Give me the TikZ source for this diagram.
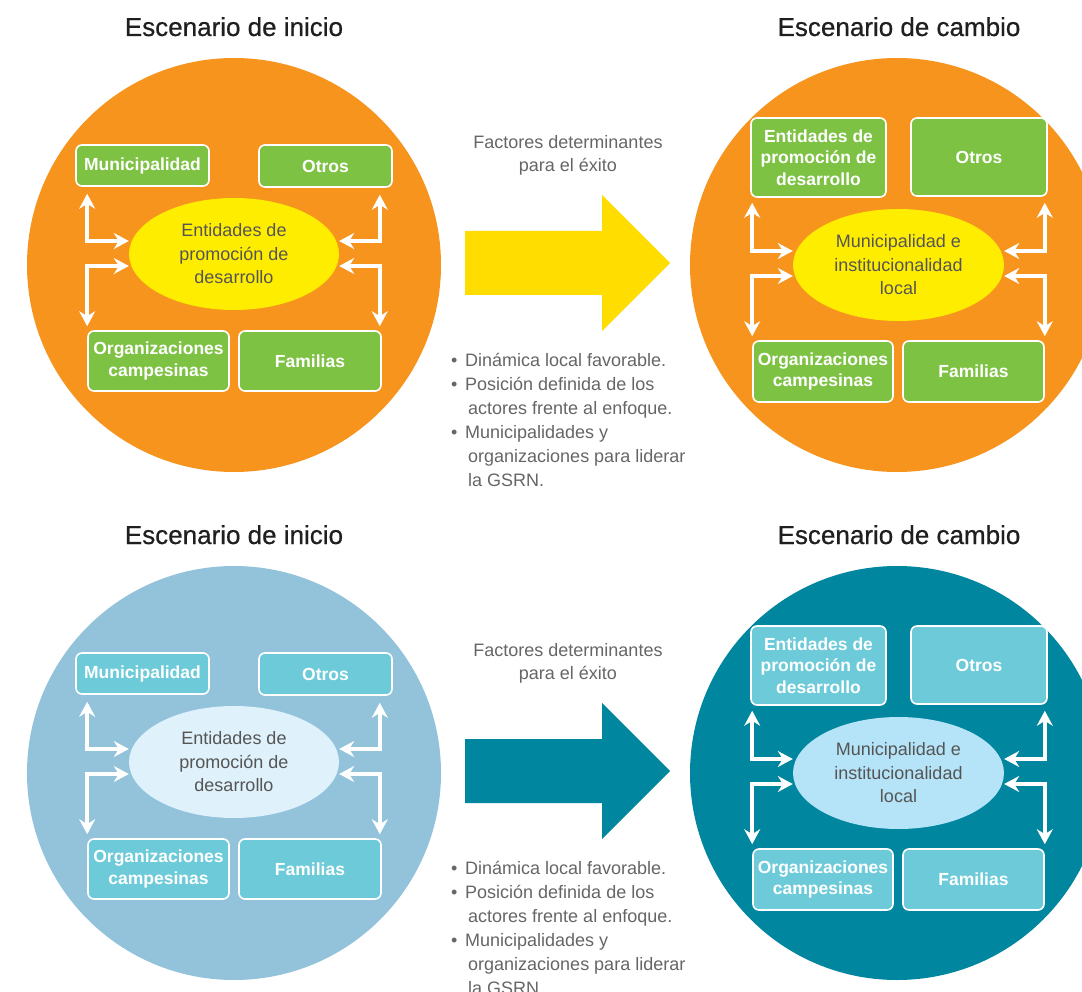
\documentclass[tikz,border=0pt]{standalone}
\usepackage{fontspec}
\setmainfont{Liberation Sans}
\usetikzlibrary{arrows.meta,shapes.geometric}
\definecolor{orng}{HTML}{F7941E}
\definecolor{grn}{HTML}{7DC243}
\definecolor{ylw}{HTML}{FFED00}
\definecolor{arry}{HTML}{FFDD00}
\definecolor{lblue}{HTML}{93C3DB}
\definecolor{cyanbx}{HTML}{6DCBD9}
\definecolor{palebl}{HTML}{DFF1FA}
\definecolor{tealc}{HTML}{00869E}
\definecolor{skybl}{HTML}{B5E3F7}
\definecolor{txtdark}{HTML}{555555}
\definecolor{txtgray}{HTML}{666666}
\tikzset{
 boxnode/.style={draw=white, line width=1.6pt, rounded corners=6pt, text=white,
   font=\bfseries\fontsize{17.5}{21.5}\selectfont, align=center, inner sep=0pt},
 ellnode/.style={ellipse, inner sep=0pt, minimum width=210pt, minimum height=112pt,
   text=txtdark, font=\fontsize{18}{23.5}\selectfont, align=center},
 bi/.style={draw=white, line width=3.6pt,
   arrows={Stealth[length=15pt,width=16pt,inset=5pt]-Stealth[length=15pt,width=16pt,inset=5pt]}},
 titlenode/.style={font=\fontsize{26}{30}\selectfont\addfontfeature{FakeBold=0.6}, text=black!88},
 notenode/.style={font=\fontsize{18}{23}\selectfont, text=txtgray, align=center},
 bulletnode/.style={font=\fontsize{18}{24}\selectfont, text=txtgray, align=left, inner sep=0pt},
}
\begin{document}
\begin{tikzpicture}[x=1pt,y=-1pt]
\useasboundingbox (0,0) rectangle (1082,992);
\clip (0,0) rectangle (1082,992);
\fill[white] (0,0) rectangle (1082,992);
\foreach \rw/\yo/\colL/\colR/\colB/\colEL/\colER/\colA in {t/0/orng/orng/grn/ylw/ylw/arry, b/508/lblue/tealc/cyanbx/palebl/skybl/tealc} {
\begin{scope}[shift={(0,\yo)}]
 % titles
 \node[titlenode, anchor=base] (tL\rw) at (234,36) {Escenario de inicio};
 \node[titlenode, anchor=base] (tR\rw) at (899,36) {Escenario de cambio};
 % circles
 \node[circle, fill=\colL, minimum size=414pt, inner sep=0pt] (cL\rw) at (234,265) {};
 \node[circle, fill=\colR, minimum size=414pt, inner sep=0pt] (cR\rw) at (897,265) {};
 % left panel
 \node[boxnode, fill=\colB, minimum width=133pt, minimum height=41pt] (mun\rw) at (142.5,165.5) {Municipalidad};
 \node[boxnode, fill=\colB, minimum width=133pt, minimum height=42pt] (oth\rw) at (325.5,166) {Otros};
 \node[boxnode, fill=\colB, minimum width=141pt, minimum height=60pt] (org\rw) at (158.5,361) {Organizaciones\\campesinas};
 \node[boxnode, fill=\colB, minimum width=142pt, minimum height=60pt] (fam\rw) at (310,361) {Familias};
 \node[ellnode, fill=\colEL] (ell\rw) at (234,254) {Entidades de\\promoción de\\desarrollo};
 \draw[bi] ([xshift=12pt,yshift=-7pt]mun\rw.south west) |- ([yshift=13pt]ell\rw.west);
 \draw[bi] ([yshift=-12pt]ell\rw.west) -| ([yshift=4pt]org\rw.north west);
 \draw[bi] ([xshift=-13pt,yshift=-7pt]oth\rw.south east) |- ([yshift=13pt]ell\rw.east);
 \draw[bi] ([yshift=-12pt]ell\rw.east) -| ([xshift=-2pt,yshift=4pt]fam\rw.north east);
 % right panel
 \node[boxnode, fill=\colB, minimum width=135pt, minimum height=79pt] (entR\rw) at (818.5,157.5) {Entidades de\\promoción de\\desarrollo};
 \node[boxnode, fill=\colB, minimum width=136pt, minimum height=78pt] (othR\rw) at (979,157) {Otros};
 \node[boxnode, fill=\colB, minimum width=140pt, minimum height=61pt] (orgR\rw) at (823,371.5) {Organizaciones\\campesinas};
 \node[boxnode, fill=\colB, minimum width=141pt, minimum height=61pt] (famR\rw) at (973.5,371.5) {Familias};
 \node[ellnode, fill=\colER, minimum width=211pt] (ellR\rw) at (898.5,265) {Municipalidad e\\institucionalidad\\local};
 \draw[bi] ([xshift=2pt,yshift=-5pt]entR\rw.south west) |- ([yshift=14pt]ellR\rw.west);
 \draw[bi] ([yshift=-11pt]ellR\rw.west) -| ([yshift=4pt]orgR\rw.north west);
 \draw[bi] ([xshift=-3pt,yshift=-6pt]othR\rw.south east) |- ([yshift=14pt]ellR\rw.east);
 \draw[bi] ([yshift=-11pt]ellR\rw.east) -| ([yshift=4pt]famR\rw.north east);
 % central arrow and texts
 \fill[\colA] (465,231) -- (602,231) -- (602,195) -- (670,263) -- (602,331) -- (602,295) -- (465,295) -- cycle;
 \node[notenode] (fac\rw) at (568,155) {Factores determinantes\\para el éxito};
 \node[bulletnode, anchor=west] (bul\rw) at (451,420) {\makebox[14pt][l]{•}Dinámica local favorable.\\
   \makebox[14pt][l]{•}Posición definida de los\\
   \hspace*{17pt}actores frente al enfoque.\\
   \makebox[14pt][l]{•}Municipalidades y\\
   \hspace*{17pt}organizaciones para liderar\\
   \hspace*{17pt}la GSRN.};
\end{scope}
}
\end{tikzpicture}
\end{document}
